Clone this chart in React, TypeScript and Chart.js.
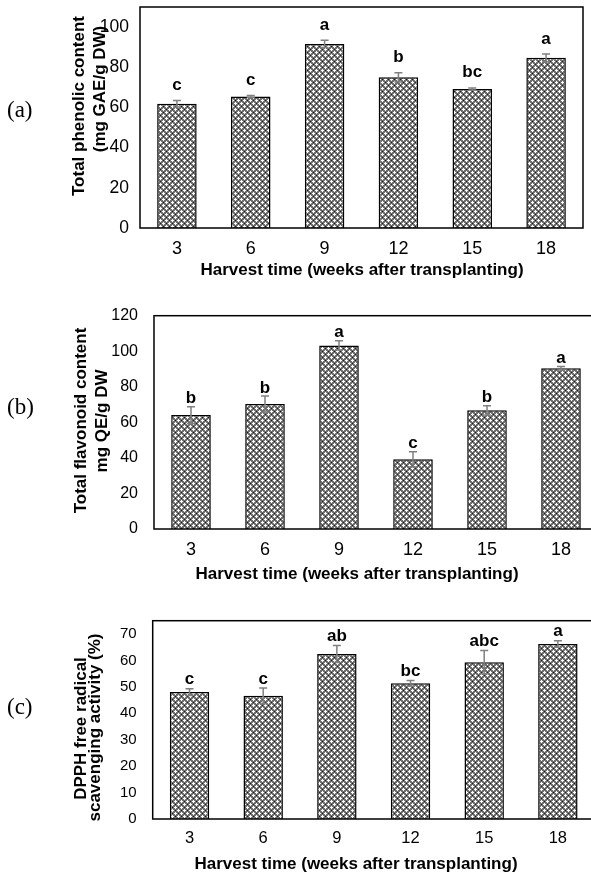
import React, { useEffect, useRef } from 'react';
import { Chart, registerables } from 'chart.js';

Chart.register(...registerables);

// ---------- data ----------
const weeks = ['3', '6', '9', '12', '15', '18'];

const phenolicMean = [61.8, 65.5, 91.6, 75.0, 69.2, 84.7];
const phenolicSE = [1.6, 0.5, 1.8, 2.3, 0.5, 1.9];
const phenolicLetters = ['c', 'c', 'a', 'b', 'bc', 'a'];

const flavonoidMean = [64.1, 70.3, 103.3, 39.2, 66.8, 90.4];
const flavonoidSE = [4.7, 4.5, 2.6, 4.3, 2.6, 1.0];
const flavonoidLetters = ['b', 'b', 'a', 'c', 'b', 'a'];

const dpphMean = [48.0, 46.6, 62.4, 51.3, 59.3, 66.2];
const dpphSE = [1.3, 2.9, 3.2, 1.1, 4.4, 1.2];
const dpphLetters = ['c', 'c', 'ab', 'bc', 'abc', 'a'];

const phenolicAxis = { max: 110, step: 20 };
const flavonoidAxis = { max: 120, step: 20 };
const dpphAxis = { max: 75, step: 10 };

const xAxisTitle = 'Harvest time (weeks after transplanting)';
const phenolicTitle = ['Total phenolic content', '(mg GAE/g DW)'];
const flavonoidTitle = ['Total flavonoid content', 'mg QE/g DW'];
const dpphTitle = ['DPPH free radical', 'scavenging activity (%)'];

// ---------- helpers ----------
const SANS = '"Liberation Sans", Arial, Helvetica, sans-serif';
const SERIF = '"Liberation Serif", "Times New Roman", serif';

function makePattern(ctx: CanvasRenderingContext2D) {
  const t = document.createElement('canvas');
  t.width = 6;
  t.height = 6;
  const c = t.getContext('2d')!;
  c.fillStyle = '#6f6f6f';
  c.fillRect(0, 0, 6, 6);
  const plus = (cx: number, cy: number, col: string) => {
    c.fillStyle = col;
    const pts = [[0, 0], [1, 0], [-1, 0], [0, 1], [0, -1]];
    pts.forEach(([dx, dy]) => {
      c.fillRect((cx + dx + 6) % 6, (cy + dy + 6) % 6, 1, 1);
    });
  };
  plus(1, 1, '#ffffff');
  plus(4, 4, '#ffffff');
  c.fillStyle = '#1a1a1a';
  c.fillRect(4, 1, 1, 1);
  c.fillRect(1, 4, 1, 1);
  return ctx.createPattern(t, 'repeat') as CanvasPattern;
}

type Geo = {
  top: number;
  width: number;
  height: number;
  area: { left: number; top: number; right: number; bottom: number };
  yTickSize: number;
  xTickSize: number;
  yTickPad: number;
  xTickPad: number;
  yTitleX: number[];
  yTitleY: number[];
  xTitleX: number;
  xTitleY: number;
  tagY: number;
  letterGap: number;
};

type PanelProps = {
  tag: string;
  labels: string[];
  values: number[];
  errors: number[];
  letters: string[];
  axis: { max: number; step: number };
  yTitle: string[];
  geo: Geo;
};

function Panel({ tag, labels, values, errors, letters, axis, yTitle, geo }: PanelProps) {
  const ref = useRef<HTMLCanvasElement>(null);

  useEffect(() => {
    const canvas = ref.current!;
    const ctx = canvas.getContext('2d')!;
    const pattern = makePattern(ctx);
    const off = geo.top;
    const A = geo.area;

    const overlay = {
      id: 'overlay',
      afterDatasetsDraw(chart: any) {
        const c = chart.ctx as CanvasRenderingContext2D;
        const a = chart.chartArea;
        const x = chart.scales.x;
        const y = chart.scales.y;
        c.save();
        // error bars
        c.strokeStyle = '#808080';
        c.lineWidth = 1.5;
        values.forEach((v, i) => {
          const cx = x.getPixelForValue(i);
          const yt = y.getPixelForValue(v + errors[i]);
          const yb = y.getPixelForValue(v - errors[i]);
          c.beginPath();
          c.moveTo(cx, yt);
          c.lineTo(cx, yb);
          c.moveTo(cx - 4, yt);
          c.lineTo(cx + 4, yt);
          c.moveTo(cx - 4, yb);
          c.lineTo(cx + 4, yb);
          c.stroke();
        });
        // frame
        c.strokeStyle = '#000';
        c.lineWidth = 1.5;
        c.strokeRect(a.left, a.top, a.right - a.left, a.bottom - a.top);
        // significance letters
        c.fillStyle = '#000';
        c.font = `bold 17px ${SANS}`;
        c.textAlign = 'center';
        c.textBaseline = 'alphabetic';
        letters.forEach((t, i) => {
          const cx = x.getPixelForValue(i);
          const yt = y.getPixelForValue(values[i] + errors[i]);
          c.fillText(t, cx, yt - geo.letterGap);
        });
        // x title
        c.font = `bold 17px ${SANS}`;
        c.fillText(xAxisTitle, geo.xTitleX, geo.xTitleY - off);
        // y title
        yTitle.forEach((line, i) => {
          c.save();
          c.translate(geo.yTitleX[i], geo.yTitleY[i] - off);
          c.rotate(-Math.PI / 2);
          c.textAlign = 'center';
          c.textBaseline = 'alphabetic';
          c.fillText(line, 0, 0);
          c.restore();
        });
        // panel tag
        c.font = `23px ${SERIF}`;
        c.textAlign = 'left';
        c.fillText(tag, 7, geo.tagY - off);
        c.restore();
      },
    };

    const chart = new Chart(canvas, {
      type: 'bar',
      data: {
        labels,
        datasets: [
          {
            data: values,
            backgroundColor: pattern,
            borderColor: '#000',
            borderWidth: 1.5,
            categoryPercentage: 1,
            barPercentage: 0.535,
          },
        ],
      },
      options: {
        responsive: false,
        animation: false,
        devicePixelRatio: 1,
        layout: {
          padding: { left: 0, top: A.top - off, right: geo.width - A.right, bottom: 0 },
        },
        plugins: { legend: { display: false }, tooltip: { enabled: false }, title: { display: false } },
        scales: {
          x: {
            grid: { display: false, drawTicks: false },
            border: { display: false },
            ticks: { color: '#000', font: { family: SANS, size: geo.xTickSize }, padding: geo.xTickPad, maxRotation: 0 },
            afterFit: (s: any) => {
              s.height = off + geo.height - A.bottom;
              s.paddingLeft = 0;
              s.paddingRight = 0;
            },
          },
          y: {
            min: 0,
            max: axis.max,
            grid: { display: false, drawTicks: false },
            border: { display: false },
            ticks: {
              stepSize: axis.step,
              includeBounds: false,
              color: '#000',
              font: { family: SANS, size: geo.yTickSize },
              padding: geo.yTickPad,
            },
            afterFit: (s: any) => {
              s.width = A.left;
              s.paddingTop = 0;
              s.paddingBottom = 0;
            },
          },
        },
      },
      plugins: [overlay],
    } as any);

    return () => chart.destroy();
  }, []);

  return (
    <canvas
      ref={ref}
      width={geo.width}
      height={geo.height}
      style={{ position: 'absolute', left: 0, top: geo.top, width: geo.width, height: geo.height, display: 'block' }}
    />
  );
}

const geoA: Geo = {
  top: 0, width: 591, height: 290,
  area: { left: 140, top: 7, right: 583, bottom: 228 },
  yTickSize: 17.5, xTickSize: 18, yTickPad: 11, xTickPad: 10,
  yTitleX: [84, 105], yTitleY: [106, 89],
  xTitleX: 362, xTitleY: 275, tagY: 117, letterGap: 10.5,
};
const geoB: Geo = {
  top: 290, width: 600, height: 300,
  area: { left: 154, top: 315.7, right: 598, bottom: 529 },
  yTickSize: 16, xTickSize: 18, yTickPad: 16, xTickPad: 10,
  yTitleX: [86, 107], yTitleY: [420.5, 421],
  xTitleX: 357, xTitleY: 579, tagY: 414, letterGap: 3.5,
};
const geoC: Geo = {
  top: 590, width: 600, height: 287,
  area: { left: 152.7, top: 620.7, right: 594.7, bottom: 819 },
  yTickSize: 15, xTickSize: 16.5, yTickPad: 16, xTickPad: 10,
  yTitleX: [86, 100], yTitleY: [728.5, 727.5],
  xTitleX: 356, xTitleY: 869, tagY: 714, letterGap: 4.5,
};

export default function App() {
  return (
    <div style={{ position: 'fixed', left: 0, top: 0, width: 591, height: 877, overflow: 'hidden', background: '#fff' }}>
      <Panel tag="(a)" labels={weeks} values={phenolicMean} errors={phenolicSE} letters={phenolicLetters} axis={phenolicAxis} yTitle={phenolicTitle} geo={geoA} />
      <Panel tag="(b)" labels={weeks} values={flavonoidMean} errors={flavonoidSE} letters={flavonoidLetters} axis={flavonoidAxis} yTitle={flavonoidTitle} geo={geoB} />
      <Panel tag="(c)" labels={weeks} values={dpphMean} errors={dpphSE} letters={dpphLetters} axis={dpphAxis} yTitle={dpphTitle} geo={geoC} />
    </div>
  );
}
